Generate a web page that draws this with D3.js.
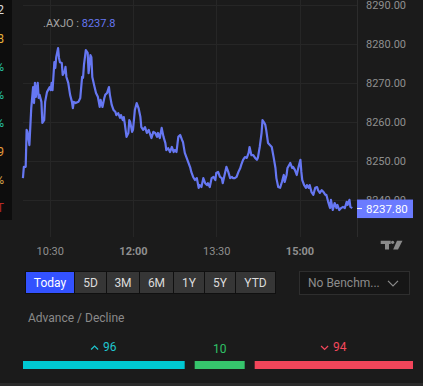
<!DOCTYPE html>
<html><head><meta charset="utf-8">
<script src="https://cdn.jsdelivr.net/npm/d3@7"></script>
<style>
html,body{margin:0;padding:0;background:#1b1b1b;}
svg{display:block;font-family:Roboto,"Noto Sans",sans-serif;}
</style></head>
<body>
<script>
// ---------- DATA ----------
const symbol = ".AXJO";
const lastPrice = 8237.8;
// minutes after 10:00 (session 10:00 - 16:00)
const minutes = [1,2,4,5,6,8,10,12,13,14,15,17,18,19,21,22,24,25,27,30,31,32,33,35,36,37,39,40,41,43,44,46,47,48,50,52,54,55,56,58,61,63,65,66,67,69,71,72,74,75,76,78,80,82,84,85,87,89,90,92,94,95,97,99,101,102,104,106,107,109,110,111,113,115,116,117,119,120,122,124,126,128,129,131,133,135,137,138,140,142,144,146,147,149,151,153,155,156,158,160,162,164,165,167,169,171,173,174,176,178,180,182,183,185,187,189,191,192,194,196,198,200,201,203,205,207,209,210,212,214,216,217,219,221,223,225,227,228,230,232,234,236,237,239,241,243,245,246,248,250,252,254,255,257,259,260,262,263,264,266,268,270,272,274,275,277,279,281,283,284,286,287,289,290,292,293,295,297,299,301,302,303,305,307,308,310,311,313,315,317,319,320,322,324,326,328,329,331,333,334,335,336,338,340,341,343,345,347,349,351,352,354,355,357];
const prices = [8245.5,8248.4,8248.4,8257.9,8257.4,8254.0,8263.5,8268.9,8264.8,8270.0,8266.4,8270.0,8266.1,8266.9,8265.1,8259.7,8260.4,8265.1,8267.6,8268.9,8268.1,8270.0,8268.1,8275.3,8273.8,8276.6,8278.9,8276.4,8275.3,8275.1,8272.0,8272.8,8274.1,8271.5,8270.0,8266.9,8265.1,8263.5,8265.1,8264.8,8265.1,8266.1,8271.5,8271.3,8274.6,8278.4,8277.7,8272.5,8277.1,8276.6,8271.5,8269.4,8267.4,8266.4,8263.8,8265.6,8263.8,8266.1,8266.9,8267.4,8268.9,8266.9,8264.3,8263.0,8262.5,8261.7,8262.2,8261.0,8261.7,8260.4,8261.2,8259.7,8256.1,8257.1,8260.4,8259.9,8257.4,8257.9,8263.0,8264.8,8263.5,8261.2,8258.6,8257.9,8258.6,8257.1,8257.9,8257.1,8255.8,8257.4,8257.1,8256.1,8257.1,8255.8,8258.4,8256.1,8254.5,8252.7,8253.2,8252.2,8253.5,8252.2,8252.7,8252.2,8256.1,8256.6,8255.3,8254.8,8252.0,8250.7,8249.4,8248.1,8247.1,8245.8,8245.0,8245.5,8243.0,8243.7,8243.2,8245.5,8244.2,8243.7,8244.2,8243.2,8245.5,8245.8,8245.0,8246.8,8247.1,8245.8,8245.5,8244.2,8246.3,8248.4,8247.1,8245.5,8245.8,8245.5,8245.5,8245.8,8247.1,8248.1,8248.9,8250.2,8250.9,8250.7,8252.0,8253.5,8251.4,8251.4,8250.7,8250.2,8250.7,8253.5,8257.1,8260.4,8259.7,8259.2,8257.9,8254.5,8254.0,8253.5,8250.9,8248.1,8245.5,8243.2,8243.0,8244.5,8246.3,8244.5,8246.3,8248.1,8248.9,8249.4,8248.1,8248.4,8247.6,8246.3,8248.4,8250.2,8247.1,8245.0,8243.7,8243.0,8243.7,8243.0,8243.7,8241.9,8241.2,8243.0,8243.2,8242.4,8241.7,8242.4,8241.9,8241.2,8241.2,8239.4,8237.8,8239.9,8238.6,8237.3,8239.1,8237.8,8238.6,8237.3,8237.8,8238.1,8237.8,8239.4,8238.6,8239.9,8238.1,8237.8,8237.8];
const yTicks = [8240, 8250, 8260, 8270, 8280, 8290];
const xTickLabels = ["10:30", "12:00", "13:30", "15:00"];
const boldTicks = ["12:00", "15:00"];
const ranges = ["Today", "5D", "3M", "6M", "1Y", "5Y", "YTD"];
const benchmarkLabel = "No Benchm...";
const adTitle = "Advance / Decline";
const adCategories = ["Advance", "Unchanged", "Decline"];
const adValues = [96, 10, 94];
const sideChars = ["2", "8", "%", "%", "%", "9", "%", "T"];

// ---------- STYLE / LAYOUT ----------
const C = {
  bg: "#1b1b1b", strip: "#0d0d0d", grid: "#262626", border: "#2c2c2c",
  axis: "#8f8f8f", line: "#6677f2", priceBox: "#6b7bff", title: "#a3a3a3",
  btn: "#363636", btnActive: "#3352ff", btnText: "#dcdcdc",
  adv: "#00c8d2", unch: "#36c46c", dec: "#f2455a",
  advText: "#1fc6cf", unchText: "#2fc267", decText: "#f4475b"
};
const sideColors = ["#d8d8d8", "#e6b13c", "#27c7a2", "#27c7a2", "#27c7a2", "#e59a3c", "#dba64a", "#b72a24"];
const btnWidths = [48, 31, 32, 33, 30, 30, 39];

const W = 423, H = 386;
const svg = d3.select("body").append("svg").attr("width", W).attr("height", H);
svg.append("rect").attr("width", W).attr("height", H).attr("fill", C.bg);
svg.append("rect").attr("x", 0).attr("y", 383).attr("width", W).attr("height", 3).attr("fill", "#2a2a2a");

// left strip
svg.append("rect").attr("x", 0).attr("y", 0).attr("width", 12).attr("height", 220).attr("fill", C.strip);
svg.append("g").selectAll("text").data(sideChars).join("text")
  .attr("x", 4).attr("y", (d, i) => 10 + i * 28.3).attr("dy", "0.35em")
  .attr("text-anchor", "end").attr("font-size", 12)
  .attr("fill", (d, i) => sideColors[i]).text(d => d);

// scales
const t = m => new Date(2025, 0, 6, 10, m);
const x = d3.scaleTime().domain([t(0), t(360)]).range([22, 355]);
const y = d3.scaleLinear().domain([8240, 8290]).range([199.5, 5]);
const parse = d3.timeParse("%H:%M");
const xTicks = xTickLabels.map(s => { const p = parse(s); return new Date(2025, 0, 6, p.getHours(), p.getMinutes()); });

// grid
const grid = svg.append("g");
grid.selectAll("line.h").data(yTicks).join("line")
  .attr("x1", 23).attr("x2", 357).attr("y1", d => Math.round(y(d)) + 0.5).attr("y2", d => Math.round(y(d)) + 0.5)
  .attr("stroke", C.grid);
grid.selectAll("line.v").data(xTicks).join("line")
  .attr("x1", d => Math.round(x(d)) + 0.5).attr("x2", d => Math.round(x(d)) + 0.5).attr("y1", 0).attr("y2", 237)
  .attr("stroke", C.grid);
svg.append("line").attr("x1", 357.5).attr("x2", 357.5).attr("y1", 0).attr("y2", 237).attr("stroke", C.border);

// axes
const yAxis = svg.append("g").attr("transform", "translate(357,0)")
  .call(d3.axisRight(y).tickValues(yTicks).tickSize(0).tickPadding(9).tickFormat(d3.format(".2f")));
yAxis.select(".domain").remove();
yAxis.selectAll("text").attr("fill", C.axis).attr("font-size", 11).attr("font-family", "Roboto,sans-serif");

const xAxis = svg.append("g").attr("transform", "translate(0,237)")
  .call(d3.axisBottom(x).tickValues(xTicks).tickSize(0).tickPadding(10).tickFormat(d3.timeFormat("%H:%M")));
xAxis.select(".domain").remove();
xAxis.selectAll("text").attr("fill", C.axis).attr("font-size", 11).attr("font-family", "Roboto,sans-serif")
  .attr("font-weight", d => boldTicks.includes(d3.timeFormat("%H:%M")(d)) ? "bold" : "normal");

// line
const series = minutes.map((m, i) => ({ date: t(m), value: prices[i] }));
svg.append("path").datum(series)
  .attr("fill", "none").attr("stroke", C.line).attr("stroke-width", 2.2).attr("stroke-linejoin", "round")
  .attr("d", d3.line().x(d => x(d.date)).y(d => y(d.value)));

// title
const title = svg.append("text").attr("x", 43).attr("y", 27).attr("font-size", 11);
title.append("tspan").attr("fill", C.title).text(symbol + " : ");
title.append("tspan").attr("fill", C.line).text(d3.format(".1f")(lastPrice));

// price box
const py = y(lastPrice);
svg.append("rect").attr("x", 357).attr("y", py - 8.5).attr("width", 56).attr("height", 18.5).attr("fill", C.priceBox);
svg.append("line").attr("x1", 357).attr("x2", 362).attr("y1", py + 0.5).attr("y2", py + 0.5).attr("stroke", "#fff");
svg.append("text").attr("x", 366).attr("y", py + 0.7).attr("dy", "0.35em").attr("font-size", 11.5)
  .attr("fill", "#fff").text(d3.format(".2f")(lastPrice));

// TV logo
const logo = svg.append("g").attr("fill", "#8a8a8a");
logo.append("path").attr("d", "M380.7,240.7H390.7V244H389V249.5H385V244H380.7Z");
logo.append("circle").attr("cx", 392.6).attr("cy", 242.3).attr("r", 1.6);
logo.append("path").attr("d", "M397,240.7H402.5L398,249.5H393.2Z");

// range buttons
const bg = svg.append("g").attr("font-size", 12);
let bx = 26;
const btns = ranges.map((r, i) => {
  const o = { label: r, x: bx, w: btnWidths[i] };
  bx += btnWidths[i] + 1;
  return o;
});
bg.append("rect").attr("x", 25).attr("y", 271).attr("width", bx - 25).attr("height", 23).attr("fill", "#101010");
bg.selectAll("rect.b").data(btns).join("rect")
  .attr("x", d => d.x).attr("y", 272).attr("width", d => d.w).attr("height", 21)
  .attr("fill", (d, i) => i === 0 ? C.btnActive : C.btn);
bg.selectAll("text.b").data(btns).join("text")
  .attr("x", d => d.x + d.w / 2).attr("y", 283).attr("dy", "0.35em").attr("text-anchor", "middle")
  .attr("fill", (d, i) => i === 0 ? "#fff" : C.btnText).text(d => d.label);

// benchmark dropdown
svg.append("rect").attr("x", 299.5).attr("y", 271.5).attr("width", 110).attr("height", 23)
  .attr("fill", "#161616").attr("stroke", "#2e2e2e");
svg.append("text").attr("x", 308).attr("y", 283).attr("dy", "0.35em").attr("font-size", 12)
  .attr("fill", "#8c8c8c").text(benchmarkLabel);
svg.append("path").attr("d", "M388,280.8L393,286L398,280.8").attr("fill", "none").attr("stroke", "#8c8c8c").attr("stroke-width", 1.2);

// advance / decline
svg.append("text").attr("x", 28).attr("y", 318).attr("dy", "0.35em").attr("font-size", 12)
  .attr("fill", "#8a8a8a").text(adTitle);

const barL = 23, barR = 413, gap = 10, minW = 50;
const avail = barR - barL - gap * (adValues.length - 1);
const total = d3.sum(adValues);
const small = adValues.map(v => v / total * avail < minW);
const rest = avail - d3.sum(small.map(s => s ? minW : 0));
const restSum = d3.sum(adValues.filter((v, i) => !small[i]));
const wScale = d3.scaleLinear().domain([0, restSum]).range([0, rest]);
let cx = barL;
const bars = adValues.map((v, i) => {
  const w = small[i] ? minW : wScale(v);
  const o = { cat: adCategories[i], v, x: cx, w };
  cx += w + gap;
  return o;
});
const barCol = [C.adv, C.unch, C.dec];
const txtCol = [C.advText, C.unchText, C.decText];
svg.selectAll("rect.ad").data(bars).join("rect")
  .attr("x", d => d.x).attr("y", 361).attr("width", d => d.w).attr("height", 8)
  .attr("fill", (d, i) => barCol[i]);

bars.forEach((b, i) => {
  const g = svg.append("g");
  const txt = g.append("text").attr("font-size", 12).attr("fill", txtCol[i]).attr("y", i === 1 ? 349 : 347).attr("dy", "0.35em").text(b.v);
  const tw = txt.node().getComputedTextLength();
  const hasCaret = i !== 1;
  const full = tw + (hasCaret ? 12 : 0);
  const start = b.x + b.w / 2 - full / 2;
  if (hasCaret) {
    const cy = 347.5;
    const d = i === 0 ? `M${start},${cy + 2}L${start + 3.5},${cy - 1.5}L${start + 7},${cy + 2}`
                      : `M${start},${cy - 1.5}L${start + 3.5},${cy + 2}L${start + 7},${cy - 1.5}`;
    g.append("path").attr("d", d).attr("fill", "none").attr("stroke", txtCol[i]).attr("stroke-width", 1.2);
    txt.attr("x", start + 12);
  } else {
    txt.attr("x", start);
  }
});
</script>
</body></html>
